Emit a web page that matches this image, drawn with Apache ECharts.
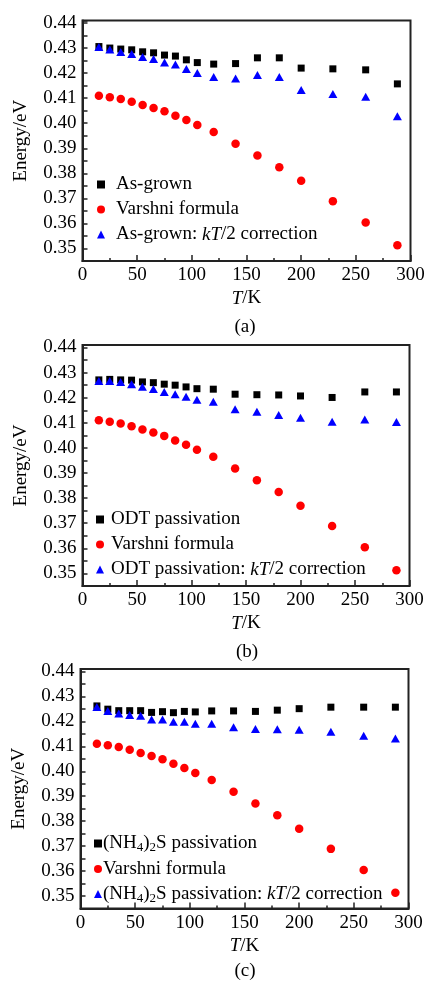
<!DOCTYPE html>
<html><head><meta charset="utf-8">
<script src="https://cdn.jsdelivr.net/npm/echarts@6/dist/echarts.min.js"></script>
<style>html,body{margin:0;padding:0;background:#fff}#c{width:428px;height:982px}</style>
</head><body><div id="c"></div>
<script>
// ---- data ----
const temps = [15,25,35,45,55,65,75,85,95,105,120,140,160,180,200,229,259,288];
const varshni = [0.4110,0.4104,0.4097,0.4086,0.4073,0.4061,0.4048,0.4030,0.4013,0.3993,0.3965,0.3918,0.3871,0.3824,0.3770,0.3689,0.3604,0.3513];
const asGrown = [0.4306,0.4300,0.4296,0.4293,0.4285,0.4281,0.4272,0.4268,0.4253,0.4242,0.4236,0.4238,0.4261,0.4261,0.4220,0.4217,0.4213,0.4157];
const asGrownCorr = [0.4304,0.4294,0.4284,0.4276,0.4264,0.4256,0.4242,0.4234,0.4216,0.4200,0.4184,0.4178,0.4192,0.4184,0.4133,0.4117,0.4106,0.4028];
const odt = [0.4271,0.4273,0.4271,0.4270,0.4263,0.4260,0.4254,0.4250,0.4243,0.4236,0.4234,0.4214,0.4212,0.4211,0.4207,0.4201,0.4223,0.4223];
const odtCorr = [0.4267,0.4267,0.4263,0.4254,0.4244,0.4235,0.4223,0.4214,0.4204,0.4192,0.4184,0.4154,0.4144,0.4131,0.4120,0.4104,0.4113,0.4103];
const nh4 = [0.4262,0.4249,0.4243,0.4243,0.4243,0.4236,0.4239,0.4235,0.4240,0.4238,0.4242,0.4242,0.4240,0.4245,0.4251,0.4257,0.4257,0.4257];
const nh4Corr = [0.4258,0.4242,0.4232,0.4226,0.4223,0.4208,0.4208,0.4199,0.4199,0.4191,0.4191,0.4177,0.4169,0.4168,0.4166,0.4158,0.4142,0.4131];
const xTickLabels = ['0','50','100','150','200','250','300'];
const yTickLabels = ['0.35','0.36','0.37','0.38','0.39','0.40','0.41','0.42','0.43','0.44'];
const panelLabels = ['(a)','(b)','(c)'];
const sampleNames = ['As-grown','ODT passivation','(NH4)2S passivation'];
const corrSuffix = ': kT/2 correction';
const varshniName = 'Varshni formula';
const sampleData = [asGrown, odt, nh4];
const corrData = [asGrownCorr, odtCorr, nh4Corr];

// ---- layout ----
const FONT = "'Liberation Serif','Times New Roman',serif";
const grids = [
  {left:82.5, top:20.5, width:328, height:240.5},
  {left:82.5, top:345, width:327, height:241},
  {left:80.5, top:669, width:328, height:239.5}
];
const legendPos = [
  {left:97, top:174, pad:6},
  {left:96, top:509, pad:2},
  {left:94, top:833, pad:-4}
];
const titlePos = [
  {left:234.5, top:318},
  {left:236, top:643},
  {left:234.5, top:962}
];

const pairs = a => temps.map((t,i)=>[t,a[i]]);
const richStyles = {
  it:{fontStyle:'italic', fontFamily:FONT, fontSize:19, color:'#000'},
  sub:{fontFamily:FONT, fontSize:13, color:'#000', padding:[9,0,0,0]}
};
function fmtName(name){
  return name.replace('(NH4)2S','(NH{sub|4}){sub|2}S').replace('kT','{it|kT}');
}

const option = {
  animation:false,
  backgroundColor:'#fff',
  title: panelLabels.map((t,i)=>({
    text:t, left:titlePos[i].left, top:titlePos[i].top, padding:0,
    textStyle:{fontFamily:FONT, fontSize:19, fontWeight:'normal', color:'#000'}
  })),
  grid: grids.map(g=>Object.assign({show:true, borderColor:'#222', borderWidth:2, backgroundColor:'transparent'}, g)),
  legend: sampleNames.map((n,i)=>({
    orient:'vertical', left:legendPos[i].left, top:legendPos[i].top, padding:0,
    itemWidth:8, itemHeight:8, itemGap:4,
    data:[n, varshniName, n+corrSuffix],
    formatter: fmtName,
    textStyle:{fontFamily:FONT, fontSize:19, color:'#000', lineHeight:21,
      padding:[0,0,0,legendPos[i].pad], rich:richStyles}
  })),
  xAxis: grids.map((g,i)=>({
    type:'value', gridIndex:i, min:0, max:300, interval:50,
    name:'{it|T}/K', nameLocation:'middle', nameGap:28,
    nameTextStyle:{fontFamily:FONT, fontSize:19, color:'#000', rich:{it:{fontStyle:'italic', fontFamily:FONT, fontSize:19, color:'#000'}}},
    axisLine:{show:true, lineStyle:{color:'#222', width:2}},
    axisTick:{show:true, inside:true, length:6, lineStyle:{color:'#222', width:1.5}},
    minorTick:{show:true, splitNumber:2, length:3, lineStyle:{color:'#222', width:1.5}},
    splitLine:{show:false},
    axisLabel:{fontFamily:FONT, fontSize:19, color:'#000', margin:5,
      formatter:v=>{const s=String(Math.round(v)); return xTickLabels.includes(s)?s:'';}}
  })),
  yAxis: grids.map((g,i)=>({
    type:'value', gridIndex:i, min:0.345, max:0.441, interval:0.005,
    name:'Energy/eV', nameLocation:'middle', nameGap:52,
    nameTextStyle:{fontFamily:FONT, fontSize:19, color:'#000'},
    axisLine:{show:true, lineStyle:{color:'#222', width:2}},
    axisTick:{show:true, inside:true, length:5, lineStyle:{color:'#222', width:1.5}},
    splitLine:{show:false},
    axisLabel:{fontFamily:FONT, fontSize:19, color:'#000', margin:6,
      formatter:v=>{const s=v.toFixed(3); if(s[4]!=='0') return ''; const t=s.slice(0,4); return yTickLabels.includes(t)?t:'';}}
  })),
  series: []
};
for(let i=0;i<3;i++){
  option.series.push({type:'scatter', name:sampleNames[i], xAxisIndex:i, yAxisIndex:i,
    symbol:'rect', symbolSize:7, itemStyle:{color:'#000', opacity:1}, data:pairs(sampleData[i]), z:3});
  option.series.push({type:'scatter', name:varshniName, xAxisIndex:i, yAxisIndex:i,
    symbol:'circle', symbolSize:8.5, itemStyle:{color:'#ff0000', opacity:1}, data:pairs(varshni), z:2});
  option.series.push({type:'scatter', name:sampleNames[i]+corrSuffix, xAxisIndex:i, yAxisIndex:i,
    symbol:'triangle', symbolSize:[9,8], itemStyle:{color:'#0000ff', opacity:1}, data:pairs(corrData[i]), z:4});
}
const chart = echarts.init(document.getElementById('c'), null, {renderer:'canvas'});
chart.setOption(option);
</script></body></html>
